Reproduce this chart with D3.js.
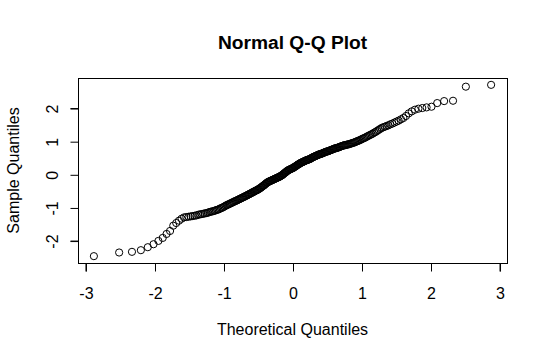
<!DOCTYPE html>
<html>
<head>
<meta charset="utf-8">
<script src="https://cdn.jsdelivr.net/npm/d3@7"></script>
<style>
  html, body { margin: 0; padding: 0; background: #fff; }
  svg { display: block; font-family: "Liberation Sans", Arial, Helvetica, sans-serif; }
</style>
</head>
<body>
<svg id="chart" width="547" height="361"></svg>
<script>
// Sorted sample values, n = 250
const sampleQuantiles = [
  -2.47, -2.36, -2.34, -2.29, -2.20, -2.11, -2.01, -1.92, -1.80, -1.71,
  -1.55, -1.47, -1.40, -1.34, -1.30,
  -1.29, -1.28, -1.27, -1.26, -1.25, -1.24, -1.22, -1.21, -1.20, -1.19,
  -1.18, -1.17, -1.16, -1.14, -1.13, -1.12, -1.11, -1.10, -1.08, -1.07,
  -1.06, -1.04, -1.02, -1.01, -0.99, -0.97, -0.95, -0.93, -0.92, -0.90,
  -0.89, -0.87, -0.86, -0.84, -0.83,
  -0.81, -0.80, -0.79, -0.77, -0.76,
  -0.745, -0.73, -0.72, -0.70, -0.69,
  -0.68, -0.66, -0.65, -0.64, -0.62,
  -0.61, -0.60, -0.58, -0.57, -0.56,
  -0.54, -0.53, -0.52, -0.50, -0.49,
  -0.48, -0.47, -0.45, -0.44, -0.42,
  -0.41, -0.39, -0.37, -0.35, -0.34,
  -0.32, -0.30, -0.28, -0.26, -0.25,
  -0.23, -0.22, -0.21, -0.20, -0.19,
  -0.18, -0.17, -0.16, -0.15, -0.14,
  -0.13, -0.12, -0.11, -0.10, -0.09,
  -0.08, -0.07, -0.06, -0.04, -0.03,
  -0.02, 0.00, 0.02, 0.04, 0.05,
  0.07, 0.09, 0.10, 0.12, 0.13,
  0.14, 0.15, 0.16, 0.17, 0.18,
  0.19, 0.20, 0.22, 0.23, 0.24,
  0.26, 0.27, 0.29, 0.30, 0.31,
  0.33, 0.34, 0.35, 0.36, 0.37,
  0.38, 0.39, 0.40, 0.41, 0.42,
  0.43, 0.44, 0.44, 0.45, 0.46,
  0.47, 0.48, 0.50, 0.51, 0.52,
  0.53, 0.54, 0.55, 0.56, 0.57,
  0.58, 0.59, 0.60, 0.61, 0.61,
  0.62, 0.63, 0.64, 0.65, 0.66,
  0.67, 0.68, 0.69, 0.69, 0.70,
  0.71, 0.72, 0.73, 0.74, 0.75,
  0.76, 0.77, 0.78, 0.79, 0.79,
  0.80, 0.81, 0.82, 0.83, 0.84,
  0.85, 0.86, 0.87, 0.88, 0.88,
  0.89, 0.90, 0.90, 0.91, 0.92,
  0.93, 0.94, 0.95, 0.96, 0.97,
  0.99, 1.00, 1.01, 1.03, 1.04,
  1.06, 1.08, 1.09, 1.11, 1.13,
  1.15, 1.17, 1.19, 1.21, 1.23,
  1.26, 1.28, 1.31, 1.34, 1.37,
  1.40, 1.42, 1.44, 1.46, 1.48,
  1.51, 1.53, 1.56, 1.59, 1.62,
  1.66, 1.70, 1.76, 1.84, 1.90, 1.95, 1.98, 2.00, 2.02, 2.04,
  2.15, 2.21, 2.22, 2.645, 2.70
];
const xTicks = [-3, -2, -1, 0, 1, 2, 3];
const yTicks = [-2, -1, 0, 1, 2];
const titleText = "Normal Q-Q Plot";
const xLabel = "Theoretical Quantiles";
const yLabel = "Sample Quantiles";

// Standard normal quantile function (Acklam's approximation), as used by qqnorm's ppoints
function qnorm(p) {
  const a = [-3.969683028665376e+01, 2.209460984245205e+02, -2.759285104469687e+02, 1.383577518672690e+02, -3.066479806614716e+01, 2.506628277459239e+00];
  const b = [-5.447609879822406e+01, 1.615858368580409e+02, -1.556989798598866e+02, 6.680131188771972e+01, -1.328068155288572e+01];
  const c = [-7.784894002430293e-03, -3.223964580411365e-01, -2.400758277161838e+00, -2.549732539343734e+00, 4.374664141464968e+00, 2.938163982698783e+00];
  const d = [7.784695709041462e-03, 3.224671290700398e-01, 2.445134137142996e+00, 3.754408661907416e+00];
  const pl = 0.02425, ph = 1 - pl;
  let q, r;
  if (p < pl) {
    q = Math.sqrt(-2 * Math.log(p));
    return (((((c[0]*q+c[1])*q+c[2])*q+c[3])*q+c[4])*q+c[5]) / ((((d[0]*q+d[1])*q+d[2])*q+d[3])*q+1);
  } else if (p <= ph) {
    q = p - 0.5; r = q * q;
    return (((((a[0]*r+a[1])*r+a[2])*r+a[3])*r+a[4])*r+a[5])*q / (((((b[0]*r+b[1])*r+b[2])*r+b[3])*r+b[4])*r+1);
  } else {
    q = Math.sqrt(-2 * Math.log(1 - p));
    return -(((((c[0]*q+c[1])*q+c[2])*q+c[3])*q+c[4])*q+c[5]) / ((((d[0]*q+d[1])*q+d[2])*q+d[3])*q+1);
  }
}

const n = sampleQuantiles.length;
const points = sampleQuantiles.map((s, i) => ({ t: qnorm((i + 1 - 0.5) / n), s }));

const W = 547, H = 361;
const margin = { left: 78, right: 40, top: 78, bottom: 98 };
const svg = d3.select("#chart");
const FONT = "Liberation Sans, Arial, sans-serif";

function padExtent(ext) {
  const pad = (ext[1] - ext[0]) * 0.04;
  return [ext[0] - pad, ext[1] + pad];
}

const x = d3.scaleLinear()
  .domain(padExtent(d3.extent(points, d => d.t)))
  .range([margin.left, W - margin.right]);
const y = d3.scaleLinear()
  .domain(padExtent(d3.extent(points, d => d.s)))
  .range([H - margin.bottom, margin.top]);

// Points
svg.append("g")
  .selectAll("circle")
  .data(points)
  .join("circle")
  .attr("cx", d => x(d.t))
  .attr("cy", d => y(d.s))
  .attr("r", 3.6)
  .attr("fill", "none")
  .attr("stroke", "#000")
  .attr("stroke-width", 1);

// Box
svg.append("rect")
  .attr("x", margin.left + 0.5)
  .attr("y", margin.top + 0.5)
  .attr("width", W - margin.left - margin.right)
  .attr("height", H - margin.top - margin.bottom)
  .attr("fill", "none")
  .attr("stroke", "#000")
  .attr("stroke-width", 1);

// X axis
const xAxis = d3.axisBottom(x).tickValues(xTicks).tickSize(8).tickFormat(d3.format("d"));
const gx = svg.append("g")
  .attr("transform", `translate(0.5,${H - margin.bottom + 0.5})`)
  .call(xAxis);
gx.select(".domain").attr("d", `M${x(xTicks[0])},8V0H${x(xTicks[xTicks.length - 1])}V8`).attr("stroke", "#000");
gx.selectAll(".tick line").attr("stroke", "#000");
gx.selectAll(".tick text")
  .attr("y", 35)
  .attr("dy", null)
  .attr("font-size", 16)
  .attr("fill", "#000")
  .attr("font-family", FONT)
  .text(d => d < 0 ? "-" + Math.abs(d) : String(d));

// Y axis
const yAxis = d3.axisLeft(y).tickValues(yTicks).tickSize(8).tickFormat(d3.format("d"));
const gy = svg.append("g")
  .attr("transform", `translate(${margin.left + 0.5},0.5)`)
  .call(yAxis);
gy.select(".domain").attr("d", `M-8,${y(yTicks[0])}H0V${y(yTicks[yTicks.length - 1])}H-8`).attr("stroke", "#000");
gy.selectAll(".tick line").attr("stroke", "#000");
gy.selectAll(".tick text").remove();
gy.selectAll(".tick")
  .append("text")
  .attr("transform", "translate(-21,0) rotate(-90)")
  .attr("text-anchor", "middle")
  .attr("font-size", 16)
  .attr("fill", "#000")
  .attr("font-family", FONT)
  .text(d => d < 0 ? "-" + Math.abs(d) : String(d));

// Title
svg.append("text")
  .attr("x", (margin.left + W - margin.right) / 2)
  .attr("y", 49)
  .attr("text-anchor", "middle")
  .attr("font-size", 19.2)
  .attr("font-weight", "bold")
  .attr("fill", "#000")
  .text(titleText);

// Axis labels
svg.append("text")
  .attr("x", (margin.left + W - margin.right) / 2)
  .attr("y", 335)
  .attr("text-anchor", "middle")
  .attr("font-size", 16)
  .attr("fill", "#000")
  .text(xLabel);

svg.append("text")
  .attr("transform", `translate(19,${(margin.top + H - margin.bottom) / 2}) rotate(-90)`)
  .attr("text-anchor", "middle")
  .attr("font-size", 16)
  .attr("fill", "#000")
  .text(yLabel);
</script>
</body>
</html>
